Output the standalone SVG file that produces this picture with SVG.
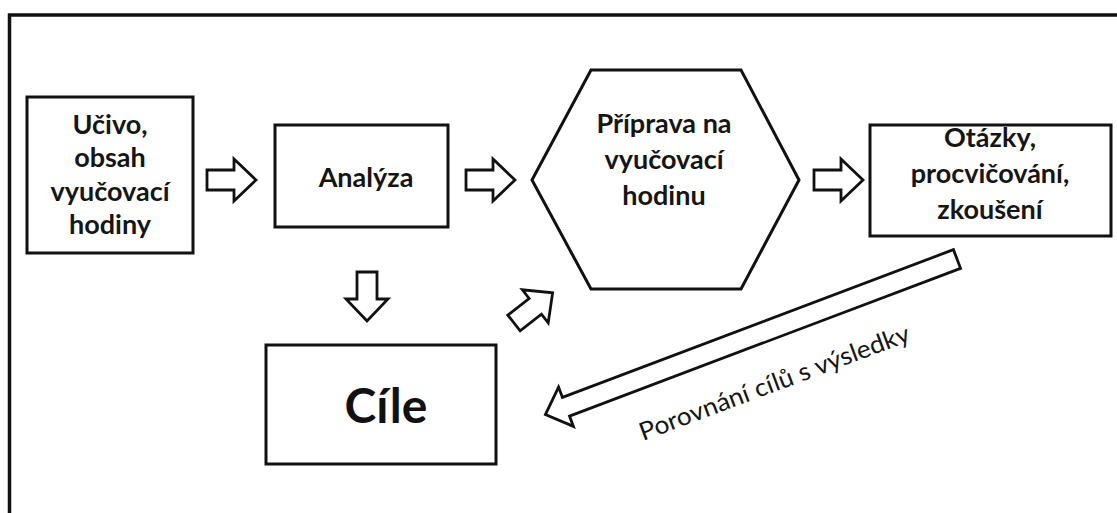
<svg xmlns="http://www.w3.org/2000/svg" xmlns:xlink="http://www.w3.org/1999/xlink" width="1117" height="513" viewBox="0 0 1117 513">
  <defs>
    <style>
      .shape { fill: #ffffff; stroke: #111111; stroke-width: 3; stroke-linejoin: miter; }
      .frame { fill: none; stroke: #111111; stroke-width: 3.5; }
      .blk { fill: #ffffff; stroke: #111111; stroke-width: 2.8; stroke-linejoin: miter; }
      .lbl { font-family: Lato, "Open Sans", "Liberation Sans", sans-serif; font-weight: 700; font-size: 27px; fill: #151515; text-anchor: middle; }
      .big { font-family: Lato, "Open Sans", "Liberation Sans", sans-serif; font-weight: 700; font-size: 48px; fill: #111111; text-anchor: middle; }
      .note { font-family: Lato, "Open Sans", "Liberation Sans", sans-serif; font-weight: 400; font-size: 25px; fill: #151515; }
    </style>
    <path id="blkArrow" d="M0,-10 L27,-10 L27,-21 L49,0 L27,21 L27,10 L0,10 Z"/>
  </defs>
  <rect x="0" y="0" width="1117" height="513" fill="#ffffff"/>
  <path class="frame" d="M9.5,520 V15 H1125"/>

  <g id="node-ucivo">
    <rect class="shape" x="27" y="97" width="166" height="156"/>
    <text class="lbl" x="110" y="134">Učivo,</text>
    <text class="lbl" x="110" y="167">obsah</text>
    <text class="lbl" x="110" y="201">vyučovací</text>
    <text class="lbl" x="110" y="234">hodiny</text>
  </g>

  <g id="node-analyza">
    <rect class="shape" x="275" y="125" width="173" height="102"/>
    <text class="lbl" x="366" y="187">Analýza</text>
  </g>

  <g id="node-priprava">
    <polygon class="shape" points="532,180 591,70 741,70 799,180 741,289 591,289"/>
    <text class="lbl" x="664" y="133">Příprava na</text>
    <text class="lbl" x="664" y="169">vyučovací</text>
    <text class="lbl" x="664" y="205">hodinu</text>
  </g>

  <g id="node-otazky">
    <rect class="shape" x="870" y="125" width="241" height="111"/>
    <text class="lbl" x="990" y="147">Otázky,</text>
    <text class="lbl" x="990" y="183">procvičování,</text>
    <text class="lbl" x="990" y="219">zkoušení</text>
  </g>

  <g id="node-cile">
    <rect class="shape" x="266" y="345" width="230" height="119"/>
    <text class="big" x="386" y="423">Cíle</text>
  </g>

  <g id="connectors">
    <use xlink:href="#blkArrow" class="blk" transform="translate(207,180)"/>
    <use xlink:href="#blkArrow" class="blk" transform="translate(466,180)"/>
    <use xlink:href="#blkArrow" class="blk" transform="translate(814,180)"/>
    <use xlink:href="#blkArrow" class="blk" transform="translate(367,272) rotate(90)"/>
    <use xlink:href="#blkArrow" class="blk" transform="translate(514,323) rotate(-38)"/>
    <path class="blk" d="M0,-10 L418,-10 L418,-21 L440,0 L418,21 L418,10 L0,10 Z" transform="translate(957,259) rotate(159.3)"/>
    <text class="note" x="643" y="441" transform="rotate(-20.5 643 441)" textLength="287" lengthAdjust="spacingAndGlyphs">Porovnání cílů s výsledky</text>
  </g>
</svg>
